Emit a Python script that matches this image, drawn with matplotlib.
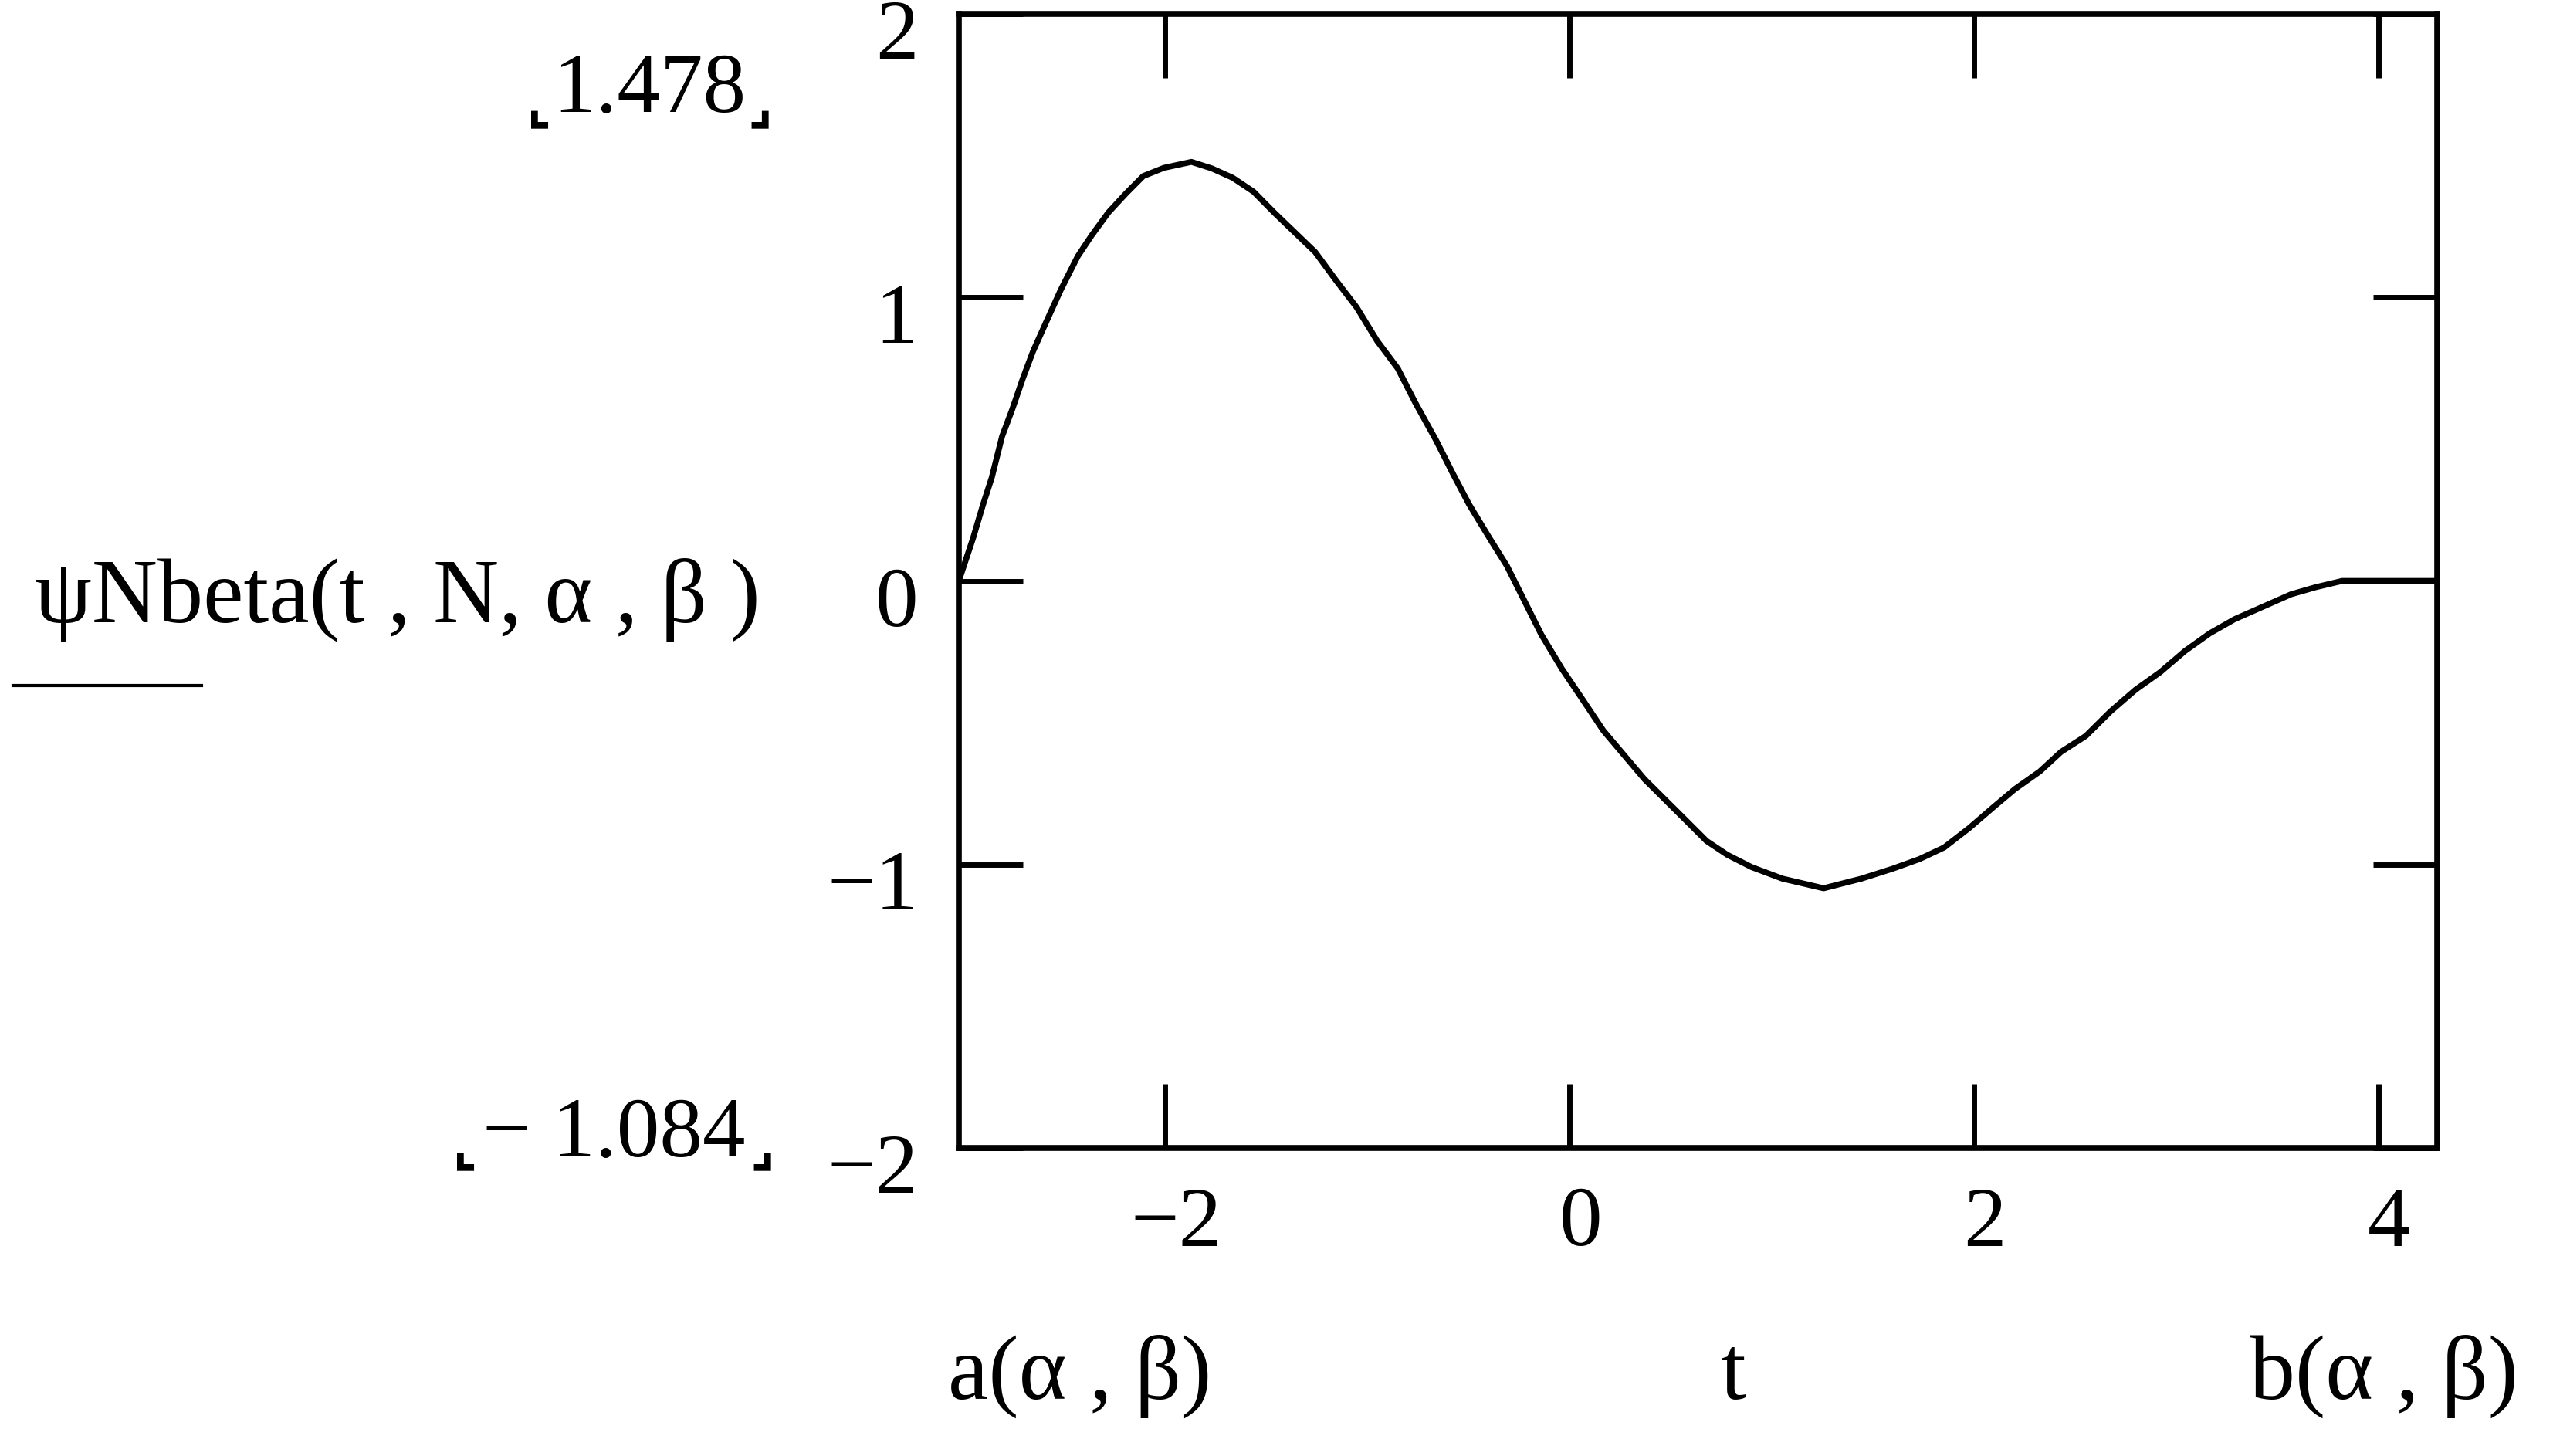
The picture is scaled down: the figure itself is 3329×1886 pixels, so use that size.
import matplotlib
matplotlib.use("Agg")
import matplotlib.pyplot as plt
import matplotlib.transforms as mtransforms
from matplotlib.lines import Line2D

# ---- data ----
t_vals = [-3.02, -2.95, -2.90, -2.857, -2.806, -2.756, -2.704, -2.653, -2.585, -2.517,
          -2.432, -2.364, -2.280, -2.193, -2.108, -2.006, -1.87, -1.769, -1.666, -1.563,
          -1.462, -1.360, -1.258, -1.155, -1.053, -0.951, -0.850, -0.764, -0.661, -0.576,
          -0.497, -0.395, -0.310, -0.225, -0.140, -0.038, 0.065, 0.167, 0.269, 0.370,
          0.473, 0.576, 0.677, 0.780, 0.899, 1.052, 1.256, 1.443, 1.597, 1.730,
          1.852, 1.975, 2.097, 2.202, 2.325, 2.430, 2.552, 2.675, 2.798, 2.920,
          3.043, 3.165, 3.288, 3.428, 3.568, 3.690, 3.820, 4.29]
psi_vals = [0.0, 0.15, 0.27, 0.365, 0.51, 0.605, 0.713, 0.81, 0.918, 1.025,
            1.145, 1.218, 1.30, 1.367, 1.428, 1.457, 1.478, 1.455, 1.422, 1.373,
            1.30, 1.23, 1.16, 1.06, 0.965, 0.846, 0.75, 0.63, 0.497, 0.377,
            0.27, 0.15, 0.053, -0.068, -0.189, -0.310, -0.419, -0.528, -0.614, -0.699,
            -0.772, -0.845, -0.917, -0.966, -1.009, -1.050, -1.084, -1.050, -1.015, -0.981,
            -0.94, -0.872, -0.797, -0.734, -0.672, -0.603, -0.547, -0.460, -0.384, -0.322,
            -0.247, -0.185, -0.135, -0.091, -0.047, -0.022, 0.0, 0.0]

x_limits = [-3.02, 4.29]
y_limits = [-2, 2]
x_ticks = [-2, 0, 2, 4]
x_tick_labels = ["\u22122", "0", "2", "4"]
y_ticks = [-2, -1, 0, 1, 2]
y_tick_labels = ["\u22122", "\u22121", "0", "1", "2"]

y_label = "\u03c8Nbeta(t , N, \u03b1 , \u03b2 )"
x_label = "t"
x_left_label = "a(\u03b1 , \u03b2)"
x_right_label = "b(\u03b1 , \u03b2)"
y_max_marker = "1.478"
y_min_marker = "\u2212 1.084"
corner_left = "\u231e"
corner_right = "\u231f"

# ---- figure ----
W, H, DPI = 3330, 1886, 100
plt.rcParams['font.family'] = ['Liberation Serif', 'DejaVu Sans']
fig = plt.figure(figsize=(W / DPI, H / DPI), dpi=DPI)
fig.patch.set_facecolor('white')


def fx(px):
    return px / W


def fy(py):
    return 1 - py / H


ax = fig.add_axes([fx(1242), fy(1487), (3157 - 1242) / W, (1487 - 18) / H])
ax.plot(t_vals, psi_vals, color='black', lw=5.5, solid_joinstyle='round')
ax.set_xlim(x_limits)
ax.set_ylim(y_limits)
for s in ax.spines.values():
    s.set_linewidth(5.5)
ax.set_xticks(x_ticks, x_tick_labels)
ax.set_yticks(y_ticks, y_tick_labels)
ax.tick_params(axis='both', direction='in', length=60, width=5.0, top=True, right=True,
               labelsize=80, color='black')
ax.tick_params(axis='x', pad=36)
ax.tick_params(axis='y', pad=38)

off_x = mtransforms.ScaledTranslation(14 / DPI, 0, fig.dpi_scale_trans)
for lab in ax.get_xticklabels():
    lab.set_transform(lab.get_transform() + off_x)
off_y = mtransforms.ScaledTranslation(0, -20 / DPI, fig.dpi_scale_trans)
for lab in ax.get_yticklabels():
    lab.set_transform(lab.get_transform() + off_y)

# y label with legend line sample
fig.text(fx(45), fy(806), y_label, fontsize=85, ha='left', va='baseline')
fig.add_artist(Line2D([fx(17), fx(261)], [fy(888), fy(888)], color='black', lw=3.0))

# max / min markers
fig.text(fx(966), fy(145), y_max_marker, fontsize=80, ha='right', va='baseline')
fig.text(fx(966), fy(1498), y_min_marker, fontsize=80, ha='right', va='baseline')
for (xl, xr, yb) in [(682, 1001, 158), (586, 1004, 1508)]:
    fig.text(fx(xl), fy(yb), corner_left, fontsize=50, ha='left', va='baseline',
             family='DejaVu Sans', fontweight='bold')
    fig.text(fx(xr), fy(yb), corner_right, fontsize=50, ha='right', va='baseline',
             family='DejaVu Sans', fontweight='bold')

# x axis labels
fig.text(fx(1228), fy(1812), x_left_label, fontsize=85, ha='left', va='baseline')
fig.text(fx(2245), fy(1812), x_label, fontsize=85, ha='center', va='baseline')
fig.text(fx(3262), fy(1812), x_right_label, fontsize=85, ha='right', va='baseline')

fig.savefig("out.png", dpi=DPI, facecolor='white')
